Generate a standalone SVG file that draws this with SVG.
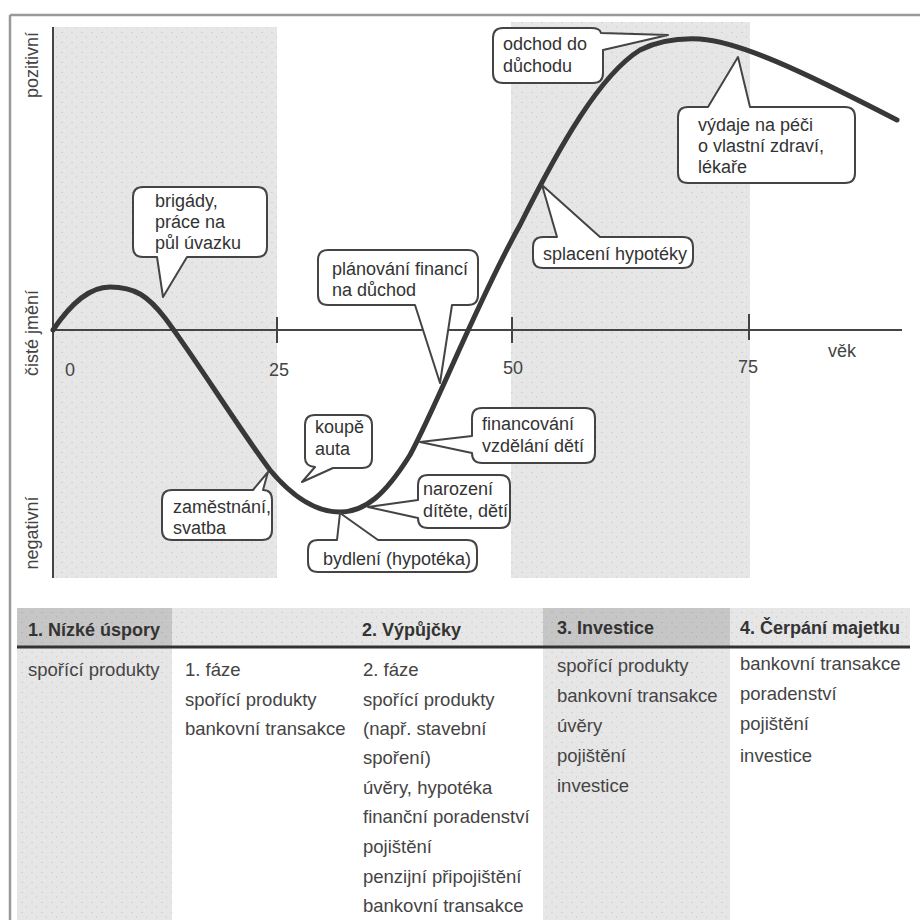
<svg xmlns="http://www.w3.org/2000/svg" width="920" height="920" viewBox="0 0 920 920">
<defs>
<pattern id="tex" width="10" height="10" patternUnits="userSpaceOnUse">
<rect width="10" height="10" fill="#e6e6e6"/>
<rect x="1" y="2" width="2" height="1" fill="#d2d2d2"/>
<rect x="6" y="6" width="1" height="2" fill="#d6d6d6"/>
<rect x="4" y="0" width="1" height="1" fill="#f0f0f0"/>
</pattern>
<pattern id="texd" width="10" height="10" patternUnits="userSpaceOnUse">
<rect width="10" height="10" fill="#c6c6c6"/>
<rect x="1" y="2" width="2" height="1" fill="#b4b4b4"/>
<rect x="6" y="6" width="1" height="2" fill="#b8b8b8"/>
</pattern>
<style>
.lbl{font-family:"Liberation Sans",Arial,sans-serif;font-size:18px;fill:#333}
.ax{font-family:"Liberation Sans",Arial,sans-serif;font-size:18px;fill:#444}
.hd{font-family:"Liberation Sans",Arial,sans-serif;font-size:18px;font-weight:bold;fill:#333}
.bd{font-family:"Liberation Sans",Arial,sans-serif;font-size:18.5px;fill:#444}
.co{fill:#fff;stroke:#444;stroke-width:2;stroke-linejoin:round}
.axis{stroke:#444;stroke-width:2;fill:none}
</style>
</defs>
<rect width="920" height="920" fill="#fff"/>
<!-- frame -->
<line x1="10" y1="15" x2="920" y2="15" stroke="#999" stroke-width="2.5"/>
<line x1="10" y1="15" x2="10" y2="920" stroke="#999" stroke-width="2.5"/>
<!-- bands -->
<rect x="53" y="27" width="224" height="551" fill="url(#tex)"/>
<rect x="511" y="22" width="239" height="556" fill="url(#tex)"/>
<!-- axes -->
<g id="axes">
<line class="axis" x1="53" y1="27" x2="53" y2="578"/>
<line class="axis" x1="53" y1="330" x2="902" y2="330"/>
<line class="axis" x1="277" y1="317" x2="277" y2="343"/>
<line class="axis" x1="512" y1="317" x2="512" y2="343"/>
<line class="axis" x1="749" y1="314" x2="749" y2="340"/>
<text class="ax" x="65" y="376">0</text>
<text class="ax" x="269" y="376">25</text>
<text class="ax" x="503" y="374">50</text>
<text class="ax" x="738" y="373">75</text>
<text class="ax" x="828" y="357">věk</text>
<text class="ax" font-size="17" text-anchor="middle" transform="translate(38,65) rotate(-90)">pozitivní</text>
<text class="ax" font-size="17" text-anchor="middle" transform="translate(38,333) rotate(-90)">čisté jmění</text>
<text class="ax" font-size="17" text-anchor="middle" transform="translate(38,533) rotate(-90)">negativní</text>
</g>
<!-- curve -->
<g id="connectors">
<path d="M53,330 C72,302 90,287 110,287 C135,287 148,296 165,318 C195,358 240,430 270,470 C295,500 318,512 340,512 C365,512 385,495 410,455 C438,403 478,300 520,225 C560,145 600,75 640,50 C660,40 680,38 700,39 C740,42 800,70 897,120" fill="none" stroke="#383838" stroke-width="5" stroke-linecap="round"/>
</g>
<!-- callouts -->
<g id="c-brigady">
<path class="co" d="M143,187 H257 Q267,187 267,197 V247 Q267,257 257,257 H187 L163,297 L157,257 H143 Q133,257 133,247 V197 Q133,187 143,187 Z"/>
<text class="lbl" x="155" y="207">brigády,</text>
<text class="lbl" x="155" y="228">práce na</text>
<text class="lbl" x="155" y="249">půl úvazku</text>
</g>
<g id="c-planovani">
<path class="co" d="M328,250 H468 Q478,250 478,260 V295 Q478,305 468,305 H452 L440,383 L415,305 H328 Q318,305 318,295 V260 Q318,250 328,250 Z"/>
<text class="lbl" x="332" y="275">plánování financí</text>
<text class="lbl" x="332" y="296">na důchod</text>
</g>
<g id="c-odchod">
<path class="co" d="M503,28 H591 Q600,28 601,33 L668,35 L603,50 V73 Q603,83 593,83 H503 Q493,83 493,73 V38 Q493,28 503,28 Z"/>
<text class="lbl" x="503" y="50">odchod do</text>
<text class="lbl" x="503" y="72">důchodu</text>
</g>
<g id="c-vydaje">
<path class="co" d="M688,107 H708 L738,57 L750,107 H845 Q855,107 855,117 V173 Q855,183 845,183 H688 Q678,183 678,173 V117 Q678,107 688,107 Z"/>
<text class="lbl" x="698" y="131">výdaje na péči</text>
<text class="lbl" x="698" y="152">o vlastní zdraví,</text>
<text class="lbl" x="698" y="173">lékaře</text>
</g>
<g id="c-splaceni">
<path class="co" d="M543,237 H557 L542,185 L600,237 H683 Q693,237 693,247 V258 Q693,268 683,268 H543 Q533,268 533,258 V247 Q533,237 543,237 Z"/>
<text class="lbl" x="543" y="260">splacení hypotéky</text>
</g>
<g id="c-koupe">
<path class="co" d="M315,415 H362 Q372,415 372,425 V458 Q372,468 362,468 H333 L302,482 L315,467 Q305,466 305,458 V425 Q305,415 315,415 Z"/>
<text class="lbl" x="315" y="433">koupě</text>
<text class="lbl" x="315" y="455">auta</text>
</g>
<g id="c-zamestnani">
<path class="co" d="M172,490 H253 L268,472 L263,490 Q272,490 272,500 V530 Q272,540 262,540 H172 Q162,540 162,530 V500 Q162,490 172,490 Z"/>
<text class="lbl" x="173" y="513">zaměstnání,</text>
<text class="lbl" x="173" y="534">svatba</text>
</g>
<g id="c-narozeni">
<path class="co" d="M428,475 H500 Q510,475 510,485 V518 Q510,528 500,528 H428 Q418,528 418,518 L368,507 L418,500 V485 Q418,475 428,475 Z"/>
<text class="lbl" x="423" y="495">narození</text>
<text class="lbl" x="423" y="517">dítěte, dětí</text>
</g>
<g id="c-bydleni">
<path class="co" d="M318,540 H337 L340,513 L378,540 H467 Q477,540 477,550 V562 Q477,572 467,572 H318 Q308,572 308,562 V550 Q308,540 318,540 Z"/>
<text class="lbl" x="323" y="565">bydlení (hypotéka)</text>
</g>
<g id="c-financovani">
<path class="co" d="M482,408 H585 Q595,408 595,418 V453 Q595,463 585,463 H482 Q472,463 472,453 L420,442 L472,436 V418 Q472,408 482,408 Z"/>
<text class="lbl" x="482" y="430">financování</text>
<text class="lbl" x="482" y="452">vzdělání dětí</text>
</g>
<!-- table -->
<g id="table">
<rect x="17" y="608" width="893" height="39" fill="url(#tex)"/>
<rect x="17" y="608" width="155" height="39" fill="url(#texd)"/>
<rect x="543" y="608" width="187" height="39" fill="url(#texd)"/>
<rect x="17" y="648" width="155" height="272" fill="url(#tex)"/>
<rect x="543" y="648" width="187" height="272" fill="url(#tex)"/>
<line x1="17" y1="647" x2="910" y2="647" stroke="#333" stroke-width="3"/>
<text class="hd" x="28" y="636">1. Nízké úspory</text>
<text class="hd" x="362" y="636">2. Výpůjčky</text>
<text class="hd" x="557" y="634">3. Investice</text>
<text class="hd" x="740" y="634">4. Čerpání majetku</text>
<text class="bd" x="28" y="676">spořící produkty</text>
<text class="bd" x="185" y="676">1. fáze</text>
<text class="bd" x="185" y="706">spořící produkty</text>
<text class="bd" x="185" y="735">bankovní transakce</text>
<text class="bd" x="363" y="676">2. fáze</text>
<text class="bd" x="363" y="706">spořící produkty</text>
<text class="bd" x="363" y="735">(např. stavební</text>
<text class="bd" x="363" y="764">spoření)</text>
<text class="bd" x="363" y="794">úvěry, hypotéka</text>
<text class="bd" x="363" y="823">finanční poradenství</text>
<text class="bd" x="363" y="853">pojištění</text>
<text class="bd" x="363" y="883">penzijní připojištění</text>
<text class="bd" x="363" y="912">bankovní transakce</text>
<text class="bd" x="557" y="672">spořící produkty</text>
<text class="bd" x="557" y="702">bankovní transakce</text>
<text class="bd" x="557" y="732">úvěry</text>
<text class="bd" x="557" y="762">pojištění</text>
<text class="bd" x="557" y="792">investice</text>
<text class="bd" x="740" y="670">bankovní transakce</text>
<text class="bd" x="740" y="700">poradenství</text>
<text class="bd" x="740" y="730">pojištění</text>
<text class="bd" x="740" y="762">investice</text>
</g>
</svg>
